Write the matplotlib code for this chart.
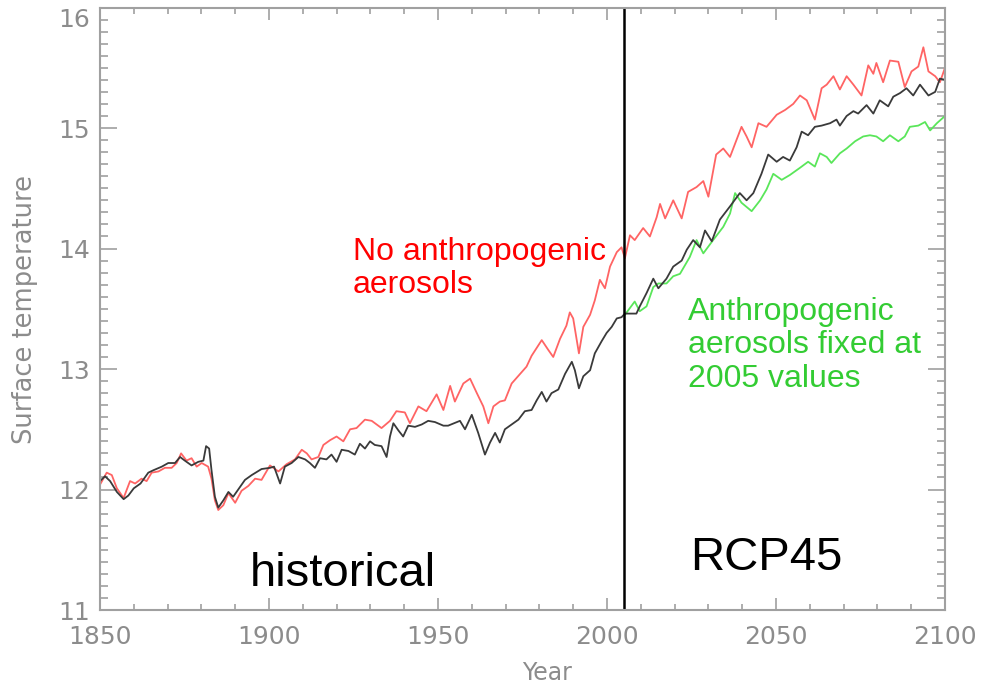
import matplotlib.pyplot as plt
from matplotlib.ticker import MultipleLocator

# values (year, surface temperature)
black_years = [1850, 1851.5, 1853, 1855, 1857, 1858.4, 1860, 1862, 1864.3, 1865.8,
               1868.3, 1870.2, 1872.2, 1873.7, 1875.1, 1877.1, 1879.1, 1880.6, 1881.4, 1882.3,
               1883, 1884, 1885, 1886.5, 1888, 1889.4, 1890.9, 1892.9, 1894.9, 1897.8,
               1900.3, 1901.5, 1903.3, 1904.7, 1906.7, 1908.7, 1910.7, 1912.1, 1913.6, 1915.1,
               1917, 1918.5, 1920, 1921.5, 1923.5, 1925.4, 1926.9, 1928.4, 1929.9, 1931.3,
               1933.3, 1934.8, 1935.8, 1936.8, 1938.3, 1939.7, 1941.2, 1943.2, 1945.2, 1947.1,
               1949.1, 1951.6, 1953, 1956.5, 1958, 1960, 1961.9, 1963.9, 1965.4, 1966.9,
               1968.3, 1969.8, 1971.8, 1973.8, 1975.7, 1977.7, 1979.2, 1980.7, 1982.1, 1983.6,
               1985.6, 1987.6, 1989.6, 1990.5, 1991.7, 1993, 1995, 1996.4, 1998.4, 1999.9,
               2001.4, 2002.9, 2004.3, 2005.3, 2008.7, 2009.7, 2011.7, 2013.7, 2015.2, 2017.6,
               2019.6, 2022.1, 2023.6, 2025.5, 2027.5, 2029, 2031, 2033.4, 2036.4, 2039.3,
               2041.3, 2043.3, 2045.7, 2047.7, 2050.2, 2052.1, 2054.1, 2056.1, 2057.6, 2059.5,
               2061.5, 2063.5, 2066, 2067.9, 2068.9, 2070.9, 2072.9, 2074.3, 2076.8, 2078.8,
               2080.7, 2083.2, 2084.7, 2086.7, 2088.6, 2090.6, 2092.6, 2095.1, 2097.1, 2098.5,
               2100]
black_temp = [12.07, 12.11, 12.07, 11.98, 11.92, 11.95, 12.01, 12.05, 12.14, 12.16,
              12.19, 12.22, 12.22, 12.27, 12.24, 12.20, 12.23, 12.24, 12.36, 12.34,
              12.16, 11.94, 11.85, 11.91, 11.98, 11.94, 12.00, 12.08, 12.12, 12.17,
              12.18, 12.19, 12.05, 12.19, 12.22, 12.27, 12.25, 12.22, 12.18, 12.26,
              12.25, 12.29, 12.23, 12.33, 12.32, 12.29, 12.38, 12.34, 12.40, 12.37,
              12.36, 12.27, 12.44, 12.55, 12.49, 12.44, 12.53, 12.52, 12.54, 12.57,
              12.56, 12.53, 12.53, 12.57, 12.50, 12.62, 12.47, 12.29, 12.39, 12.47,
              12.39, 12.50, 12.54, 12.58, 12.65, 12.66, 12.74, 12.81, 12.73, 12.80,
              12.83, 12.96, 13.06, 12.99, 12.84, 12.94, 12.99, 13.13, 13.23, 13.30,
              13.35, 13.42, 13.43, 13.46, 13.46, 13.52, 13.63, 13.75, 13.67, 13.75,
              13.85, 13.90, 13.99, 14.07, 14.01, 14.15, 14.06, 14.24, 14.35, 14.46,
              14.40, 14.46, 14.62, 14.78, 14.72, 14.76, 14.73, 14.84, 14.97, 14.94,
              15.01, 15.02, 15.04, 15.07, 15.02, 15.10, 15.14, 15.12, 15.19, 15.12,
              15.23, 15.18, 15.26, 15.29, 15.33, 15.27, 15.36, 15.27, 15.30, 15.41,
              15.40]

red_years = [1850, 1852, 1853.5, 1855, 1857, 1858.9, 1860.4, 1862.3, 1863.8, 1865.3,
             1867.3, 1869.2, 1871.2, 1872.7, 1874, 1875.6, 1877.1, 1878.6, 1880.1, 1882,
             1883, 1884, 1885, 1886.5, 1888, 1890, 1891.9, 1893.9, 1895.9, 1897.8,
             1900.3, 1902.8, 1905.2, 1907.7, 1909.7, 1911.2, 1912.6, 1914.6, 1916.1, 1918.1,
             1920, 1922, 1924, 1925.9, 1928.4, 1930.4, 1933.3, 1935.8, 1937.7, 1940.2,
             1941.7, 1944.2, 1946.6, 1949.6, 1951.6, 1953.6, 1955, 1957.5, 1959.5, 1961.5,
             1963.4, 1964.9, 1966.4, 1968.3, 1969.8, 1971.8, 1974.3, 1976.2, 1977.7, 1980.7,
             1982.6, 1984.1, 1986.1, 1988, 1989, 1990, 1991.7, 1993, 1995, 1996.4,
             1997.9, 1999.4, 2000.9, 2002.9, 2004.3, 2005.3, 2006.8, 2008.2, 2010.7, 2012.7,
             2014.7, 2015.7, 2017.2, 2019.6, 2022.1, 2024, 2026.5, 2028.5, 2030, 2032.3,
             2034.4, 2036.4, 2038.3, 2039.8, 2041.3, 2042.8, 2044.8, 2047.2, 2050.2, 2052.7,
             2055.1, 2057.1, 2059.1, 2061.5, 2063.5, 2065, 2067, 2068.9, 2070.9, 2072.9,
             2075.3, 2077.3, 2078.8, 2079.7, 2081.7, 2083.7, 2086.2, 2088.1, 2090.1, 2092.1,
             2093.6, 2095.1, 2097.1, 2098.5, 2100]
red_temp = [12.04, 12.14, 12.12, 12.01, 11.93, 12.07, 12.05, 12.09, 12.07, 12.14,
            12.15, 12.18, 12.18, 12.22, 12.30, 12.24, 12.26, 12.19, 12.22, 12.19,
            12.09, 11.91, 11.83, 11.87, 11.97, 11.89, 11.99, 12.03, 12.09, 12.08,
            12.20, 12.15, 12.21, 12.25, 12.33, 12.30, 12.25, 12.27, 12.37, 12.41,
            12.44, 12.40, 12.50, 12.51, 12.58, 12.57, 12.51, 12.57, 12.65, 12.64,
            12.55, 12.69, 12.65, 12.79, 12.66, 12.86, 12.73, 12.88, 12.92, 12.80,
            12.69, 12.55, 12.69, 12.73, 12.74, 12.88, 12.96, 13.02, 13.11, 13.24,
            13.16, 13.10, 13.25, 13.36, 13.47, 13.42, 13.13, 13.35, 13.45, 13.57,
            13.74, 13.67, 13.85, 13.97, 14.01, 13.92, 14.11, 14.07, 14.17, 14.10,
            14.26, 14.37, 14.25, 14.40, 14.25, 14.47, 14.51, 14.56, 14.43, 14.78,
            14.83, 14.76, 14.90, 15.01, 14.93, 14.84, 15.04, 15.01, 15.11, 15.15,
            15.20, 15.27, 15.23, 15.07, 15.33, 15.36, 15.43, 15.32, 15.43, 15.36,
            15.27, 15.52, 15.45, 15.54, 15.38, 15.56, 15.55, 15.34, 15.47, 15.51,
            15.67, 15.47, 15.43, 15.38, 15.50]

green_years = [2005.3, 2008.2, 2009.7, 2011.7, 2013.7, 2015.2, 2017.6, 2019.6, 2021.6, 2024.5,
               2026.5, 2028.5, 2031.4, 2034.4, 2036.4, 2037.9, 2039.8, 2042.8, 2045.3, 2047.2,
               2049.2, 2051.7, 2054.1, 2057.1, 2059.5, 2061.5, 2063, 2065, 2066.4, 2068.9,
               2070.9, 2073.4, 2075.8, 2077.8, 2079.7, 2081.7, 2083.7, 2086.2, 2088.1, 2089.6,
               2092.1, 2094.1, 2095.6, 2097.6, 2100]
green_temp = [13.45, 13.56, 13.48, 13.52, 13.68, 13.71, 13.71, 13.77, 13.79, 13.93,
              14.07, 13.96, 14.07, 14.18, 14.29, 14.46, 14.38, 14.31, 14.40, 14.49,
              14.62, 14.57, 14.61, 14.67, 14.72, 14.68, 14.79, 14.76, 14.71, 14.79,
              14.83, 14.89, 14.93, 14.94, 14.93, 14.89, 14.94, 14.89, 14.93, 15.01,
              15.02, 15.05, 14.98, 15.04, 15.10]

split_year = 2005

grey = '#a0a0a0'
fig = plt.figure(figsize=(9.81, 6.90), dpi=100)
ax = fig.add_axes([0.1019, 0.1159, 0.8614, 0.8732])

ax.plot(red_years, red_temp, color='#ff6464', lw=1.3)
ax.plot(green_years, green_temp, color='#5ae65a', lw=1.3)
ax.plot(black_years, black_temp, color='#3a3a3a', lw=1.3)
ax.axvline(split_year, color='black', lw=1.8)

ax.set_xlim(1850, 2100)
ax.set_ylim(11, 16)
ax.xaxis.set_major_locator(MultipleLocator(50))
ax.xaxis.set_minor_locator(MultipleLocator(10))
ax.yaxis.set_major_locator(MultipleLocator(1))
ax.yaxis.set_minor_locator(MultipleLocator(0.1))

for s in ax.spines.values():
    s.set_color(grey)
    s.set_linewidth(1.5)
ax.tick_params(which='both', direction='in', top=True, right=True, color=grey,
               labelcolor='#8c8c8c', labelsize=18, width=1.2)
ax.tick_params(axis='x', which='major', length=8.5, pad=11)
ax.tick_params(axis='x', which='minor', length=4.5)
ax.tick_params(axis='y', which='major', length=12, pad=7)
ax.tick_params(axis='y', which='minor', length=6)

# top y label sits below its tick, as in the original
fig.canvas.draw()
for t in ax.yaxis.get_major_ticks():
    if t.get_loc() >= 15.99:
        t.label1.set_verticalalignment('top')

ax.set_xlabel('Year', fontsize=17, color='#8c8c8c')
ax.xaxis.set_label_coords(0.529, -0.085)
fig.text(25 / 981, 1 - 310 / 690, 'Surface temperature', rotation=90, fontsize=18.5,
         color='#8c8c8c', ha='center', va='center')

ann = dict(family='Liberation Sans', transform=fig.transFigure)
fig.text(353 / 981, 1 - 237 / 690, 'No anthropogenic\naerosols', color='#ff0000',
         fontsize=23, ha='left', va='top', linespacing=1.15, **ann)
fig.text(688 / 981, 1 - 297 / 690, 'Anthropogenic\naerosols fixed at\n2005 values',
         color='#33cc33', fontsize=23, ha='left', va='top', linespacing=1.15, **ann)
fig.text(250 / 981, 1 - 586 / 690, 'historical', color='black', fontsize=34,
         ha='left', va='baseline', **ann)
fig.text(690 / 981, 1 - 570 / 690, 'RCP45', color='black', fontsize=34,
         ha='left', va='baseline', **ann)

plt.savefig('out.png', dpi=100)
